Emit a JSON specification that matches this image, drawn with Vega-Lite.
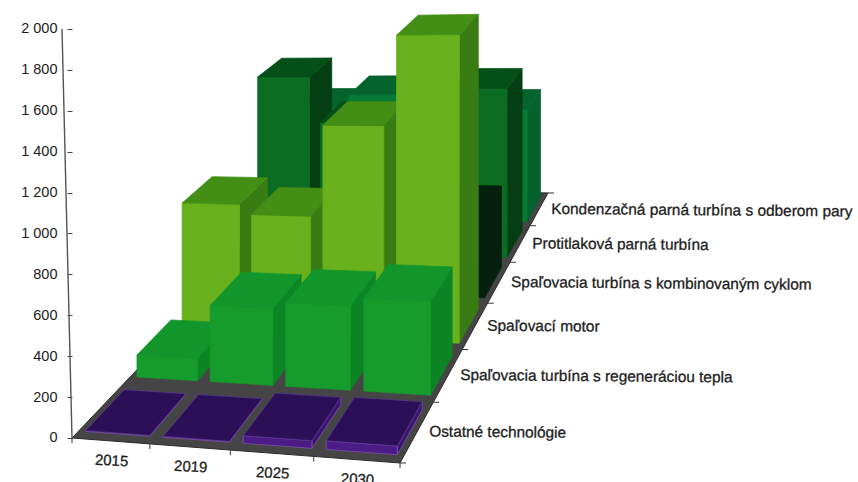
{
  "$schema": "https://vega.github.io/schema/vega-lite/v6.json",
  "width": 858,
  "height": 482,
  "padding": 0,
  "autosize": "none",
  "background": "white",
  "config": {"view": {"stroke": null}},
  "datasets": {
    "bars": [
      {"year": "2015", "technology": "Kondenzačná parná turbína s odberom pary", "value": 714},
      {"year": "2019", "technology": "Kondenzačná parná turbína s odberom pary", "value": 800},
      {"year": "2025", "technology": "Kondenzačná parná turbína s odberom pary", "value": 760},
      {"year": "2030", "technology": "Kondenzačná parná turbína s odberom pary", "value": 708},
      {"year": "2015", "technology": "Protitlaková parná turbína", "value": 1082},
      {"year": "2019", "technology": "Protitlaková parná turbína", "value": 800},
      {"year": "2025", "technology": "Protitlaková parná turbína", "value": 600},
      {"year": "2030", "technology": "Protitlaková parná turbína", "value": 1010},
      {"year": "2015", "technology": "Spaľovacia turbína s kombinovaným cyklom", "value": 150},
      {"year": "2019", "technology": "Spaľovacia turbína s kombinovaným cyklom", "value": 250},
      {"year": "2025", "technology": "Spaľovacia turbína s kombinovaným cyklom", "value": 350},
      {"year": "2030", "technology": "Spaľovacia turbína s kombinovaným cyklom", "value": 480},
      {"year": "2015", "technology": "Spaľovací motor", "value": 707},
      {"year": "2019", "technology": "Spaľovací motor", "value": 652},
      {"year": "2025", "technology": "Spaľovací motor", "value": 1150},
      {"year": "2030", "technology": "Spaľovací motor", "value": 1636},
      {"year": "2015", "technology": "Spaľovacia turbína s regeneráciou tepla", "value": 116},
      {"year": "2019", "technology": "Spaľovacia turbína s regeneráciou tepla", "value": 394},
      {"year": "2025", "technology": "Spaľovacia turbína s regeneráciou tepla", "value": 424},
      {"year": "2030", "technology": "Spaľovacia turbína s regeneráciou tepla", "value": 465},
      {"year": "2015", "technology": "Ostatné technológie", "value": 4},
      {"year": "2019", "technology": "Ostatné technológie", "value": 4},
      {"year": "2025", "technology": "Ostatné technológie", "value": 36},
      {"year": "2030", "technology": "Ostatné technológie", "value": 40}
    ],
    "floor": [
      {"corner": 0, "a": 0, "b": 0},
      {"corner": 1, "a": 1, "b": 0},
      {"corner": 2, "a": 1, "b": 1},
      {"corner": 3, "a": 0, "b": 1}
    ],
    "years": [
      {"year": "2015", "slot": 0},
      {"year": "2019", "slot": 1},
      {"year": "2025", "slot": 2},
      {"year": "2030", "slot": 3}
    ],
    "technologies": [
      {"technology": "Ostatné technológie", "slot": 0},
      {"technology": "Spaľovacia turbína s regeneráciou tepla", "slot": 1},
      {"technology": "Spaľovací motor", "slot": 2},
      {"technology": "Spaľovacia turbína s kombinovaným cyklom", "slot": 3},
      {"technology": "Protitlaková parná turbína", "slot": 4},
      {"technology": "Kondenzačná parná turbína s odberom pary", "slot": 5}
    ],
    "depthTicks": [{"slot": 0}, {"slot": 1}, {"slot": 2}, {"slot": 3}, {"slot": 4}, {"slot": 5}, {"slot": 6}],
    "frontTicks": [{"slot": 0}, {"slot": 1}, {"slot": 2}, {"slot": 3}, {"slot": 4}],
    "valueAxis": [{"from": 0, "to": 2000}]
  },
  "encoding": {
    "x": {"type": "quantitative", "scale": {"domain": [0, 858], "nice": false, "zero": false}, "axis": null},
    "y": {
      "type": "quantitative",
      "scale": {"domain": [-215.2, 2141.8], "nice": false, "zero": false},
      "axis": {
        "title": null,
        "orient": "left",
        "offset": -72,
        "values": [0, 200, 400, 600, 800, 1000, 1200, 1400, 1600, 1800, 2000],
        "domain": false,
        "grid": false,
        "tickColor": "#444444",
        "tickSize": 5,
        "labelPadding": 10,
        "labelFont": "Liberation Sans",
        "labelFontSize": 14.5,
        "labelColor": "#1c1c1c",
        "labelExpr": "replace(format(datum.value, ','), ',', ' ')",
        "encoding": {
          "labels": {"dx": {"signal": "-0.004*datum.value"}},
          "ticks": {"x": {"signal": "-0.005*datum.value"}, "x2": {"signal": "-5-0.005*datum.value"}}
        }
      }
    }
  },
  "layer": [
    {
      "description": "Chart floor, projected from unit coordinates",
      "data": {"name": "floor"},
      "transform": [
        {"calculate": "1 - 0.0663*datum.a + 0.4194*datum.b", "as": "den"},
        {"calculate": "(301.5*datum.a + 368*datum.b + 72)/datum.den", "as": "sx"},
        {"calculate": "(438 - (-5.7*datum.a - 171.2*datum.b + 438)/datum.den)/0.2045", "as": "sy"}
      ],
      "mark": {"type": "line", "interpolate": "linear-closed", "fill": "#454545", "stroke": "#2b2b2b", "strokeWidth": 1},
      "encoding": {
        "x": {"field": "sx", "type": "quantitative"},
        "y": {"field": "sy", "type": "quantitative"},
        "order": {"field": "corner", "type": "quantitative"}
      }
    },
    {
      "description": "Tick marks along the front and the depth edges of the floor",
      "data": {"name": "frontTicks"},
      "transform": [
        {"calculate": "datum.slot/4", "as": "a"},
        {"calculate": "1 - 0.0663*datum.a", "as": "den"},
        {"calculate": "(301.5*datum.a + 72)/datum.den", "as": "sx"},
        {"calculate": "(438 - (-5.7*datum.a + 438)/datum.den)/0.2045", "as": "sy"},
        {"calculate": "datum.sy - 25", "as": "sy2"}
      ],
      "mark": {"type": "rule", "stroke": "#333333", "strokeWidth": 1},
      "encoding": {
        "x": {"field": "sx", "type": "quantitative"},
        "y": {"field": "sy", "type": "quantitative"},
        "y2": {"field": "sy2"}
      }
    },
    {
      "data": {"name": "depthTicks"},
      "transform": [
        {"calculate": "datum.slot/6", "as": "b"},
        {"calculate": "0.9337 + 0.4194*datum.b", "as": "den"},
        {"calculate": "(373.5 + 368*datum.b)/datum.den", "as": "sx"},
        {"calculate": "datum.sx + 6", "as": "sx2"},
        {"calculate": "(438 - (432.3 - 171.2*datum.b)/datum.den)/0.2045", "as": "sy"}
      ],
      "mark": {"type": "rule", "stroke": "#333333", "strokeWidth": 1},
      "encoding": {
        "x": {"field": "sx", "type": "quantitative"},
        "x2": {"field": "sx2"},
        "y": {"field": "sy", "type": "quantitative"}
      }
    },
    {
      "description": "Value axis line, leaning slightly as it rises",
      "data": {"name": "valueAxis"},
      "transform": [
        {"calculate": "72 - 0.005*datum.from", "as": "sx"},
        {"calculate": "72 - 0.005*datum.to", "as": "sx2"}
      ],
      "mark": {"type": "rule", "stroke": "#555555", "strokeWidth": 1.4},
      "encoding": {
        "x": {"field": "sx", "type": "quantitative"},
        "x2": {"field": "sx2"},
        "y": {"field": "from", "type": "quantitative"},
        "y2": {"field": "to"}
      }
    },
    {
      "description": "Every bar is split into side, front and top faces, each a closed polygon, and projected in perspective",
      "data": {"name": "bars"},
      "transform": [
        {"calculate": "indexof(['2015','2019','2025','2030'], datum.year)", "as": "col"},
        {"calculate": "indexof(['Ostatné technológie','Spaľovacia turbína s regeneráciou tepla','Spaľovací motor','Spaľovacia turbína s kombinovaným cyklom','Protitlaková parná turbína','Kondenzačná parná turbína s odberom pary'], datum.technology)", "as": "row"},
        {"calculate": "['side','front','top']", "as": "face"},
        {"flatten": ["face"]},
        {"calculate": "[0,1,2,3]", "as": "corner"},
        {"flatten": ["corner"]},
        {"calculate": "(datum.col + 0.09)/4", "as": "u0"},
        {"calculate": "(datum.col + 0.92)/4", "as": "u1"},
        {"calculate": "(datum.row + 0.12)/6", "as": "v0"},
        {"calculate": "(datum.row + 0.86)/6", "as": "v1"},
        {"calculate": "datum.face == 'side' ? datum.u1 : ((datum.corner == 0 || datum.corner == 3) ? datum.u0 : datum.u1)", "as": "pu"},
        {"calculate": "datum.face == 'front' ? datum.v0 : (datum.face == 'side' ? ((datum.corner == 0 || datum.corner == 3) ? datum.v0 : datum.v1) : (datum.corner < 2 ? datum.v0 : datum.v1))", "as": "pv"},
        {"calculate": "datum.face == 'top' ? datum.value : (datum.corner < 2 ? 0 : datum.value)", "as": "ph"},
        {"calculate": "1 - 0.0663*datum.pu + 0.4194*datum.pv", "as": "den"},
        {"calculate": "(301.5*datum.pu + 368*datum.pv + 72)/datum.den", "as": "sx"},
        {"calculate": "(438 - (-5.7*datum.pu - 171.2*datum.pv + 438)/datum.den)/0.2045 + datum.ph/datum.den", "as": "sy"},
        {"calculate": "datum.row + '-' + datum.face", "as": "shade"},
        {"calculate": "datum.row + '-' + datum.col + '-' + datum.face", "as": "polygon"}
      ],
      "mark": {"type": "line", "interpolate": "linear-closed", "strokeWidth": 0.7},
      "encoding": {
        "x": {"field": "sx", "type": "quantitative"},
        "y": {"field": "sy", "type": "quantitative"},
        "detail": {"field": "polygon"},
        "order": {"field": "corner", "type": "quantitative"},
        "fill": {
          "field": "shade",
          "type": "nominal",
          "legend": null,
          "scale": {
            "domain": ["0-side", "0-front", "0-top", "1-side", "1-front", "1-top", "2-side", "2-front", "2-top", "3-side", "3-front", "3-top", "4-side", "4-front", "4-top", "5-side", "5-front", "5-top"],
            "range": ["#3a1572", "#4b1c86", "#2b1057", "#0c8525", "#169c2c", "#12962b", "#3a7c14", "#68b11c", "#438e15", "#06200f", "#06200f", "#06200f", "#043f14", "#0a6d22", "#054f18", "#05622c", "#067b36", "#05632c"]
          }
        },
        "stroke": {
          "field": "shade",
          "type": "nominal",
          "legend": null,
          "scale": {
            "domain": ["0-side", "0-front", "0-top", "1-side", "1-front", "1-top", "2-side", "2-front", "2-top", "3-side", "3-front", "3-top", "4-side", "4-front", "4-top", "5-side", "5-front", "5-top"],
            "range": ["#8a55b0", "#8a55b0", "#5a3a9a", "#0c8525", "#169c2c", "#12962b", "#3a7c14", "#68b11c", "#438e15", "#06200f", "#06200f", "#06200f", "#043f14", "#0a6d22", "#054f18", "#05622c", "#067b36", "#05632c"]
          }
        }
      }
    },
    {
      "description": "Year labels under the front edge",
      "data": {"name": "years"},
      "transform": [
        {"calculate": "(datum.slot + 0.5)/4", "as": "a"},
        {"calculate": "1 - 0.0663*datum.a", "as": "den"},
        {"calculate": "(301.5*datum.a + 72)/datum.den + 1", "as": "sx"},
        {"calculate": "(438 - (-5.7*datum.a + 438)/datum.den)/0.2045 - 96", "as": "sy"}
      ],
      "mark": {"type": "text", "font": "Liberation Sans", "fontSize": 15, "stroke": "#1c1c1c", "strokeWidth": 0.3, "color": "#1c1c1c", "angle": 3, "align": "center", "baseline": "middle"},
      "encoding": {
        "x": {"field": "sx", "type": "quantitative"},
        "y": {"field": "sy", "type": "quantitative"},
        "text": {"field": "year"}
      }
    },
    {
      "description": "Technology labels beside the depth edge",
      "data": {"name": "technologies"},
      "transform": [
        {"calculate": "(datum.slot + 0.5)/6", "as": "b"},
        {"calculate": "0.9337 + 0.4194*datum.b", "as": "den"},
        {"calculate": "(373.5 + 368*datum.b)/datum.den + 12", "as": "sx"},
        {"calculate": "(438 - (432.3 - 171.2*datum.b)/datum.den)/0.2045", "as": "sy"}
      ],
      "mark": {"type": "text", "font": "Liberation Sans", "fontSize": 15.4, "stroke": "#1c1c1c", "strokeWidth": 0.3, "color": "#1c1c1c", "angle": 0.5, "align": "left", "baseline": "middle"},
      "encoding": {
        "x": {"field": "sx", "type": "quantitative"},
        "y": {"field": "sy", "type": "quantitative"},
        "text": {"field": "technology"}
      }
    }
  ]
}
